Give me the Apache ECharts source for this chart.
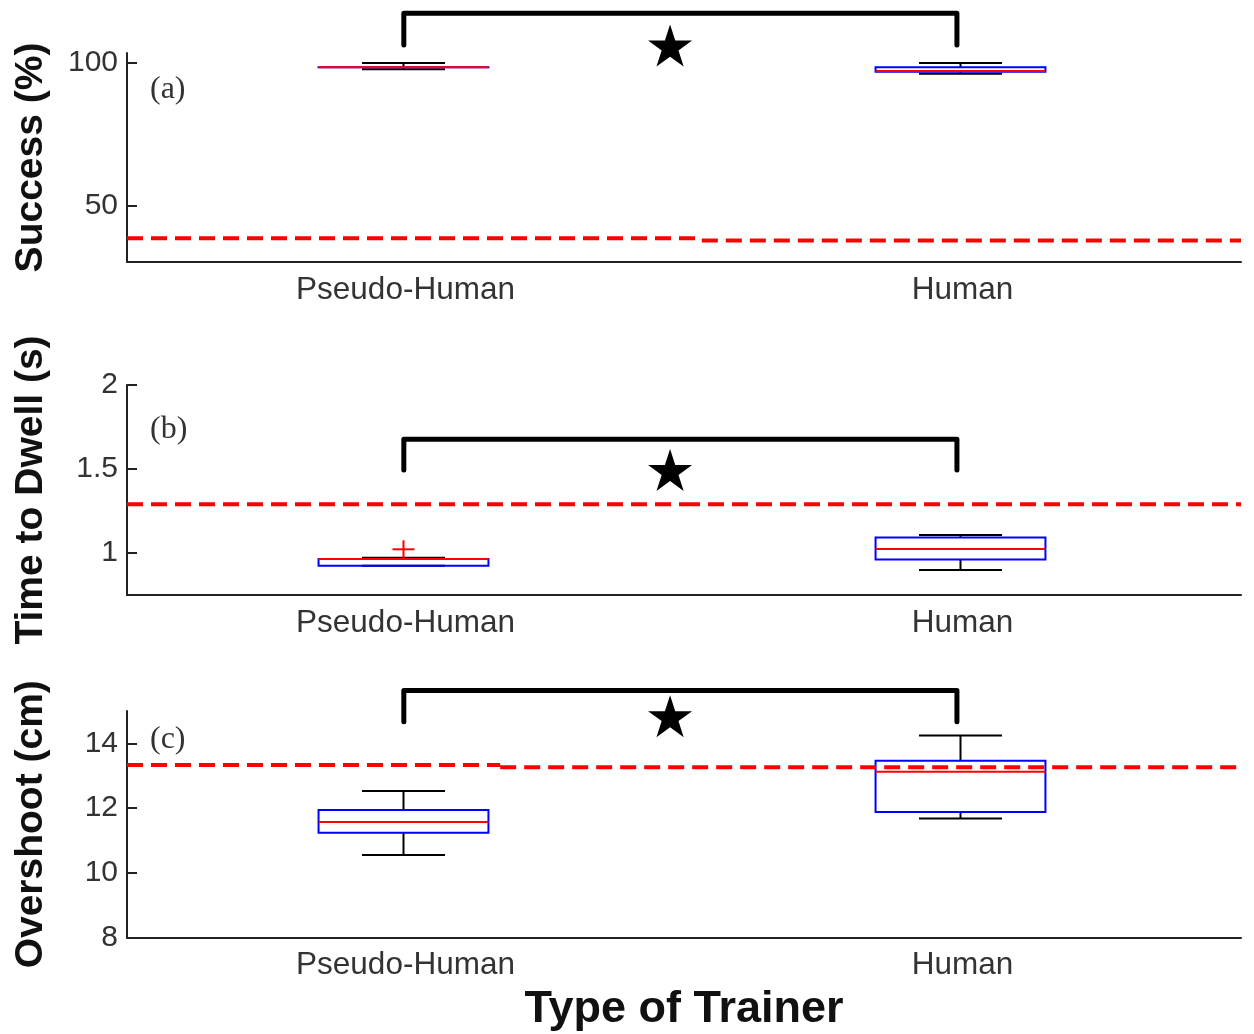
<!DOCTYPE html>
<html>
<head>
<meta charset="utf-8">
<script src="https://cdn.jsdelivr.net/npm/echarts@6/dist/echarts.min.js"></script>
<style>
html,body{margin:0;padding:0;background:#fff;}
#main{width:1254px;height:1034px;}
</style>
</head>
<body>
<div id="main"></div>
<script>
// ---------- DATA ----------
const categories = ['Pseudo-Human', 'Human'];
// box rows: [low whisker, q1, median, q3, high whisker]
const successBox = [[97.8, 98.5, 98.5, 98.5, 100.0], [96.2, 96.9, 97.2, 98.5, 100.0]];
const dwellBox = [[0.924, 0.924, 0.964, 0.964, 0.972], [0.899, 0.962, 1.024, 1.093, 1.107]];
const overshootBox = [[10.55, 11.24, 11.57, 11.94, 12.53], [11.68, 11.88, 13.12, 13.46, 14.24]];
// outliers: [category index, value]
const successOutliers = [];
const dwellOutliers = [[0, 1.022]];
const overshootOutliers = [];
// reference (dashed) level: [left part, right part], split position on 0..2 scale
const successRef = [38.7, 37.9];
const successRefSplit = 1.032;
const dwellRef = [1.29, 1.29];
const dwellRefSplit = 1.0;
const overshootRef = [13.33, 13.26];
const overshootRefSplit = 0.67;
// significance bracket: [leg end, top]; star level
const successBracket = [106.3, 117.4];
const dwellBracket = [1.494, 1.677];
const overshootBracket = [14.67, 15.63];
const successStar = 106.1;
const dwellStar = 1.494;
const overshootStar = 14.84;
const bracketX = [0.497, 1.49];
const starX = 0.975;
// y axis ranges and ticks
const successRange = [30.4, 103.5];
const dwellRange = [0.75, 2];
const overshootRange = [8, 15];
const successTicks = [50, 100];
const dwellTicks = [1, 1.5, 2];
const overshootTicks = [8, 10, 12, 14];
const yNames = ['Success (%)', 'Time to Dwell (s)', 'Overshoot (cm)'];
const panelLabels = ['(a)', '(b)', '(c)'];
const xTitle = 'Type of Trainer';

// ---------- CHART ----------
const chart = echarts.init(document.getElementById('main'));
const FONT = 'Liberation Sans';
const grids = [
  {left: 127, right: 13, top: 53, height: 209},
  {left: 127, right: 13, top: 385, height: 210},
  {left: 127, right: 13, top: 711, height: 226.5}
];
const boxes = [successBox, dwellBox, overshootBox];
const outs = [successOutliers, dwellOutliers, overshootOutliers];
const refs = [successRef, dwellRef, overshootRef];
const refSplits = [successRefSplit, dwellRefSplit, overshootRefSplit];
const brackets = [successBracket, dwellBracket, overshootBracket];
const stars = [successStar, dwellStar, overshootStar];
const ranges = [successRange, dwellRange, overshootRange];
const ticks = [successTicks, dwellTicks, overshootTicks];
const labelTops = [74, 414, 724];

function boxRender(params, api) {
  const x = api.value(0);
  const low = api.value(1), q1 = api.value(2), med = api.value(3), q3 = api.value(4), high = api.value(5);
  const band = api.size([1, 0])[0];
  const bw = band * 0.305, cw = band * 0.149;
  const pL = api.coord([x, low]), p1 = api.coord([x, q1]), pM = api.coord([x, med]),
        p3 = api.coord([x, q3]), pH = api.coord([x, high]);
  const cx = pL[0] - 2;
  const blk = {stroke: '#000', lineWidth: 2, fill: null};
  return {
    type: 'group',
    children: [
      {type: 'line', shape: {x1: cx, y1: p3[1], x2: cx, y2: pH[1]}, style: blk},
      {type: 'line', shape: {x1: cx, y1: p1[1], x2: cx, y2: pL[1]}, style: blk},
      {type: 'line', shape: {x1: cx - cw / 2, y1: pH[1], x2: cx + cw / 2, y2: pH[1]}, style: blk},
      {type: 'line', shape: {x1: cx - cw / 2, y1: pL[1], x2: cx + cw / 2, y2: pL[1]}, style: blk},
      {type: 'rect', shape: {x: cx - bw / 2, y: p3[1], width: bw, height: Math.max(0.01, p1[1] - p3[1])},
        style: {stroke: '#0000ff', lineWidth: 2, fill: null}},
      {type: 'line', shape: {x1: cx - bw / 2, y1: pM[1], x2: cx + bw / 2, y2: pM[1]},
        style: {stroke: '#ff0000', lineWidth: 2}}
    ]
  };
}
function outlierRender(params, api) {
  const p = api.coord([api.value(0), api.value(1)]);
  p[0] -= 2;
  const st = {stroke: '#ff0000', lineWidth: 2};
  return {type: 'group', children: [
    {type: 'line', shape: {x1: p[0] - 11, y1: p[1], x2: p[0] + 11, y2: p[1]}, style: st},
    {type: 'line', shape: {x1: p[0], y1: p[1] - 9, x2: p[0], y2: p[1] + 9}, style: st}
  ]};
}
const starPath = 'path://M50,0 L61.2,34.5 L97.6,34.5 L68.2,55.9 L79.4,90.5 L50,69.1 L20.6,90.5 L31.8,55.9 L2.4,34.5 L38.8,34.5 Z';

const xAxes = [], yAxes = [], series = [], titles = [];
for (let i = 0; i < 3; i++) {
  xAxes.push({
    type: 'category', gridIndex: i, data: categories, boundaryGap: true,
    axisLine: {lineStyle: {color: '#222', width: 2}},
    axisTick: {show: false},
    axisLabel: {fontFamily: FONT, fontSize: 31.5, color: '#333', margin: 12},
    splitLine: {show: false},
    name: i === 2 ? xTitle : '', nameLocation: 'middle', nameGap: 50,
    nameTextStyle: {fontFamily: FONT, fontSize: 45, fontWeight: 'bold', color: '#111'}
  });
}
for (let i = 0; i < 3; i++) {
  xAxes.push({type: 'value', gridIndex: i, min: 0, max: 2, show: false});
}
for (let i = 0; i < 3; i++) {
  yAxes.push({
    type: 'value', gridIndex: i, min: ranges[i][0], max: ranges[i][1],
    axisLine: {show: true, lineStyle: {color: '#222', width: 2}},
    axisTick: {show: true, inside: true, length: 10, lineStyle: {color: '#222', width: 2}, customValues: ticks[i]},
    axisLabel: {fontFamily: FONT, fontSize: 30, color: '#333', margin: 9, customValues: ticks[i]},
    splitLine: {show: false},
    name: yNames[i], nameLocation: 'middle', nameGap: 76,
    nameTextStyle: {fontFamily: FONT, fontSize: 39, fontWeight: 'bold', color: '#111'}
  });
  series.push({
    type: 'custom', xAxisIndex: i, yAxisIndex: i, renderItem: boxRender, z: 3,
    encode: {x: 0, y: [1, 2, 3, 4, 5]},
    data: boxes[i].map((b, k) => [k].concat(b))
  });
  series.push({
    type: 'custom', xAxisIndex: i, yAxisIndex: i, renderItem: outlierRender, z: 4,
    encode: {x: 0, y: 1},
    data: outs[i]
  });
  const r = refs[i], s = refSplits[i];
  series.push({
    type: 'line', xAxisIndex: 3 + i, yAxisIndex: i, symbol: 'none', clip: false, z: 6,
    lineStyle: {color: '#ff0000', width: 4, type: [16, 8]},
    data: [[0, r[0]], [s, r[0]], null, [s, r[1]], [2, r[1]]],
    connectNulls: false
  });
  const b = brackets[i];
  series.push({
    type: 'line', xAxisIndex: 3 + i, yAxisIndex: i, symbol: 'none', clip: false, z: 5,
    lineStyle: {color: '#000', width: 5, cap: 'round', join: 'round'},
    data: [[bracketX[0], b[0]], [bracketX[0], b[1]], [bracketX[1], b[1]], [bracketX[1], b[0]]]
  });
  series.push({
    type: 'scatter', xAxisIndex: 3 + i, yAxisIndex: i, clip: false, z: 5,
    symbol: starPath, symbolSize: [44, 42],
    itemStyle: {color: '#000', opacity: 1},
    data: [[starX, stars[i]]]
  });
  titles.push({
    text: panelLabels[i], left: 150, top: labelTops[i], padding: 0,
    textStyle: {fontFamily: 'Liberation Serif', fontSize: 32, fontWeight: 'normal', color: '#333'}
  });
}

chart.setOption({
  animation: false,
  backgroundColor: '#fff',
  title: titles,
  grid: grids,
  xAxis: xAxes,
  yAxis: yAxes,
  series: series
});
</script>
</body>
</html>
